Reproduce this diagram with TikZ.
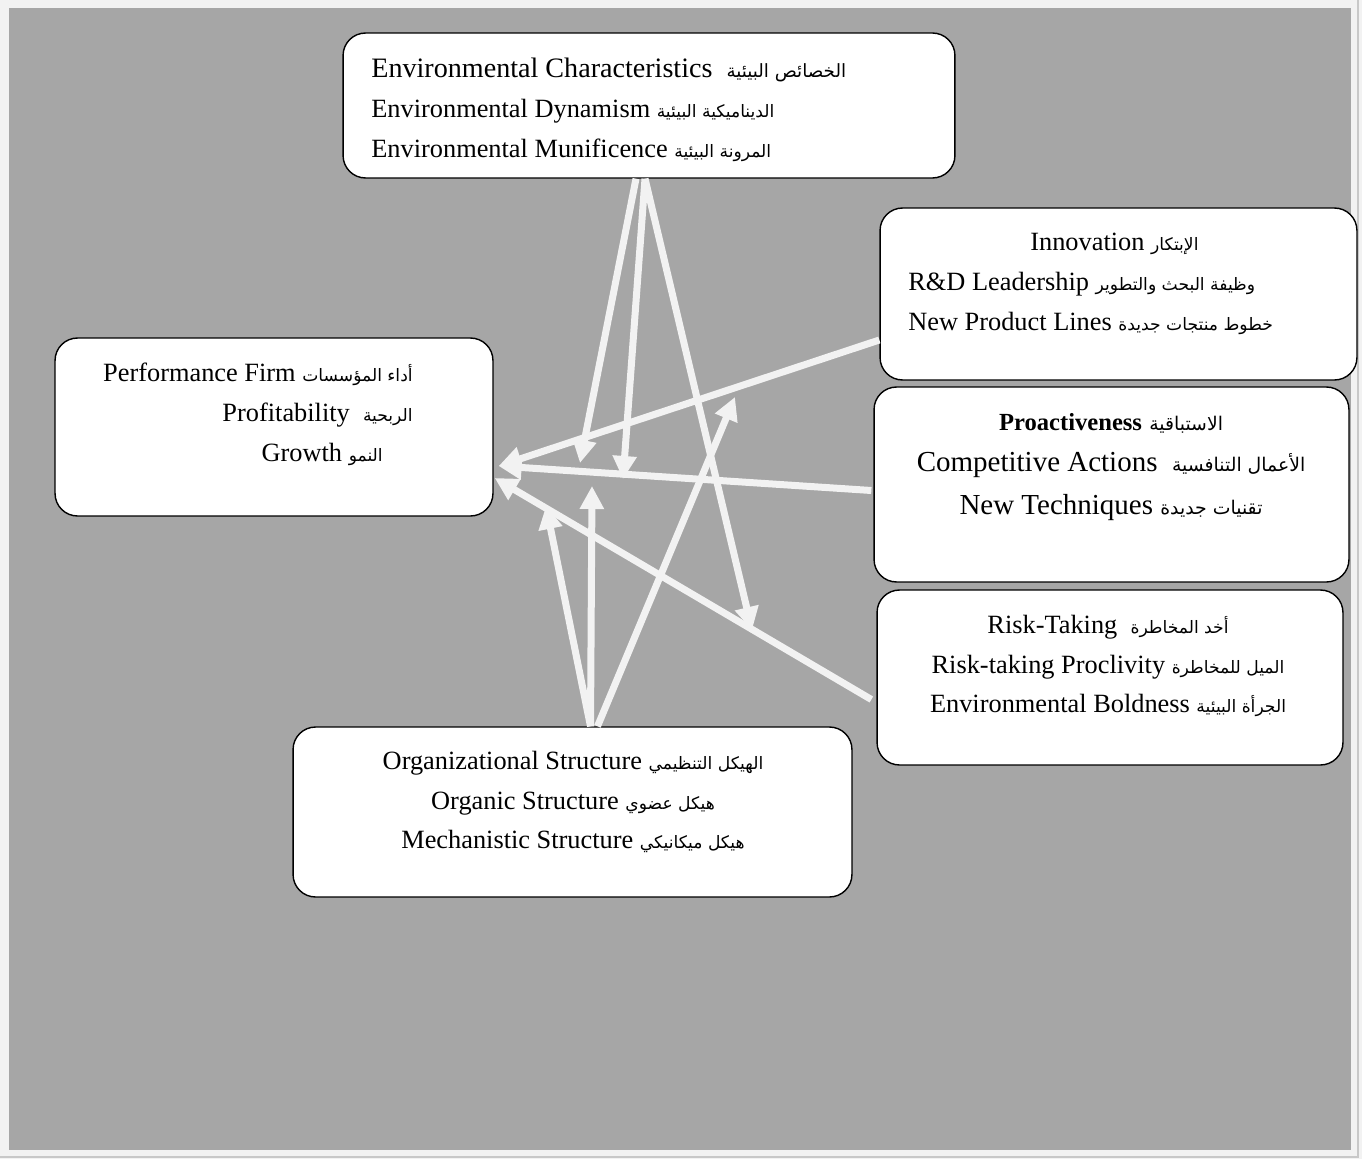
\documentclass[tikz,border=0pt]{standalone}
\usepackage{fontspec}
\setmainfont{Liberation Serif}
\newfontfamily\arabicfont[Script=Arabic,Scale=0.65]{DejaVu Sans}
\TeXXeTstate=1
\newcommand{\artxt}[1]{{\arabicfont\beginR #1\endR}}
\usepackage{tikz}
\usetikzlibrary{arrows.meta, positioning, calc}
\definecolor{bggray}{HTML}{A6A6A6}
\definecolor{framegray}{HTML}{F2F2F2}
\definecolor{edgegray}{HTML}{C8C8C8}
\definecolor{arrowgray}{HTML}{F2F2F2}

\begin{document}
\begin{tikzpicture}[
    x=0.02cm, y=-0.02cm,
    box/.style={rectangle, draw=black, line width=0.8pt, fill=white,
                rounded corners=0.45cm},
    txt/.style={inner sep=0pt, font=\fontsize{15}{22.7}\selectfont},
    arr/.style={-{Triangle[length=0.46cm, width=0.46cm]}, line width=0.14cm,
                draw=arrowgray},
]
\useasboundingbox (0,0) rectangle (1362,1159);
\fill[framegray] (0,0) rectangle (1362,1159);
\fill[bggray] (9,8) rectangle (1351,1150);
\draw[edgegray, line width=0.6pt] (1358,0) -- (1358,1157) -- (0,1157);

% boxes
\node[box, minimum width=12.24cm, minimum height=2.9cm]  (env)    at (649,105.5)  {};
\node[box, minimum width=9.54cm,  minimum height=3.44cm] (innov)  at (1118.5,294) {};
\node[box, minimum width=9.5cm,   minimum height=3.9cm]  (proact) at (1111.5,484.5) {};
\node[box, minimum width=9.32cm,  minimum height=3.5cm]  (risk)   at (1110,677.5) {};
\node[box, minimum width=8.76cm,  minimum height=3.56cm] (perf)   at (274,427)    {};
\node[box, minimum width=11.18cm, minimum height=3.4cm]  (org)    at (572.5,812)  {};

% texts
\node[txt, align=left, anchor=west] (envtxt) at (371,110)
  {{\fontsize{16}{22.7}\selectfont Environmental Characteristics\ \ \artxt{الخصائص البيئية}}\\
   Environmental Dynamism \artxt{الديناميكية البيئية}\\
   Environmental Munificence \artxt{المرونة البيئية}};
\node[txt, align=left, anchor=west] (innovtxt) at (908,284)
  {\hspace*{2.44cm}Innovation \artxt{الإبتكار}\\
   R\&D Leadership \artxt{وظيفة البحث والتطوير}\\
   New Product Lines \artxt{خطوط منتجات جديدة}};
\node[txt, align=center, font=\fontsize{16.5}{23.5}\selectfont] (proacttxt) at (1111,467)
  {{\bfseries\fontsize{14}{23.5}\selectfont Proactiveness} \artxt{الاستباقية}\\
   Competitive Actions\ \ \artxt{الأعمال التنافسية}\\[1pt]
   New Techniques \artxt{تقنيات جديدة}};
\node[txt, align=center] (risktxt) at (1108,666)
  {Risk-Taking\ \ \artxt{أخد المخاطرة}\\
   Risk-taking Proclivity \artxt{الميل للمخاطرة}\\
   Environmental Boldness \artxt{الجرأة البيئية}};
\node[txt, align=right, anchor=east] (perftxt) at (413,414)
  {Performance Firm \artxt{أداء المؤسسات}\\
   Profitability\ \ \artxt{الربحية}\hspace*{0.1cm}\\
   Growth \artxt{النمو}\hspace*{0.6cm}};
\node[txt, align=center] (orgtxt) at (573,802)
  {Organizational Structure \artxt{الهيكل التنظيمي}\\
   Organic Structure \artxt{هيكل عضوي}\\
   Mechanistic Structure \artxt{هيكل ميكانيكي}};

% free ends of the arrows
\coordinate (mA) at (580,463);
\coordinate (mB) at (623,479);
\coordinate (mC) at (752,630);
\coordinate (mG) at (546,506);
\coordinate (mH) at (592,486);
\coordinate (mI) at (735,397);

\draw[arr] ($(env.south)+(-13,0)$) -- (mA);
\draw[arr] ($(env.south)+(-4,0)$) -- (mB);
\draw[arr] ($(env.south)+(-4,0)$) -- (mC);
\draw[arr] ($(innov.west)+(0,46)$) -- ($(perf.east)+(5,39)$);
\draw[arr] ($(proact.west)+(-2,6)$) -- ($(perf.east)+(5,39)$);
\draw[arr] ($(risk.west)+(-5,22)$) -- ($(perf.east)+(1,51)$);
\draw[arr] ($(org.north)+(18,0)$) -- (mG);
\draw[arr] ($(org.north)+(18,0)$) -- (mH);
\draw[arr] ($(org.north)+(25,0)$) -- (mI);
\end{tikzpicture}
\end{document}
